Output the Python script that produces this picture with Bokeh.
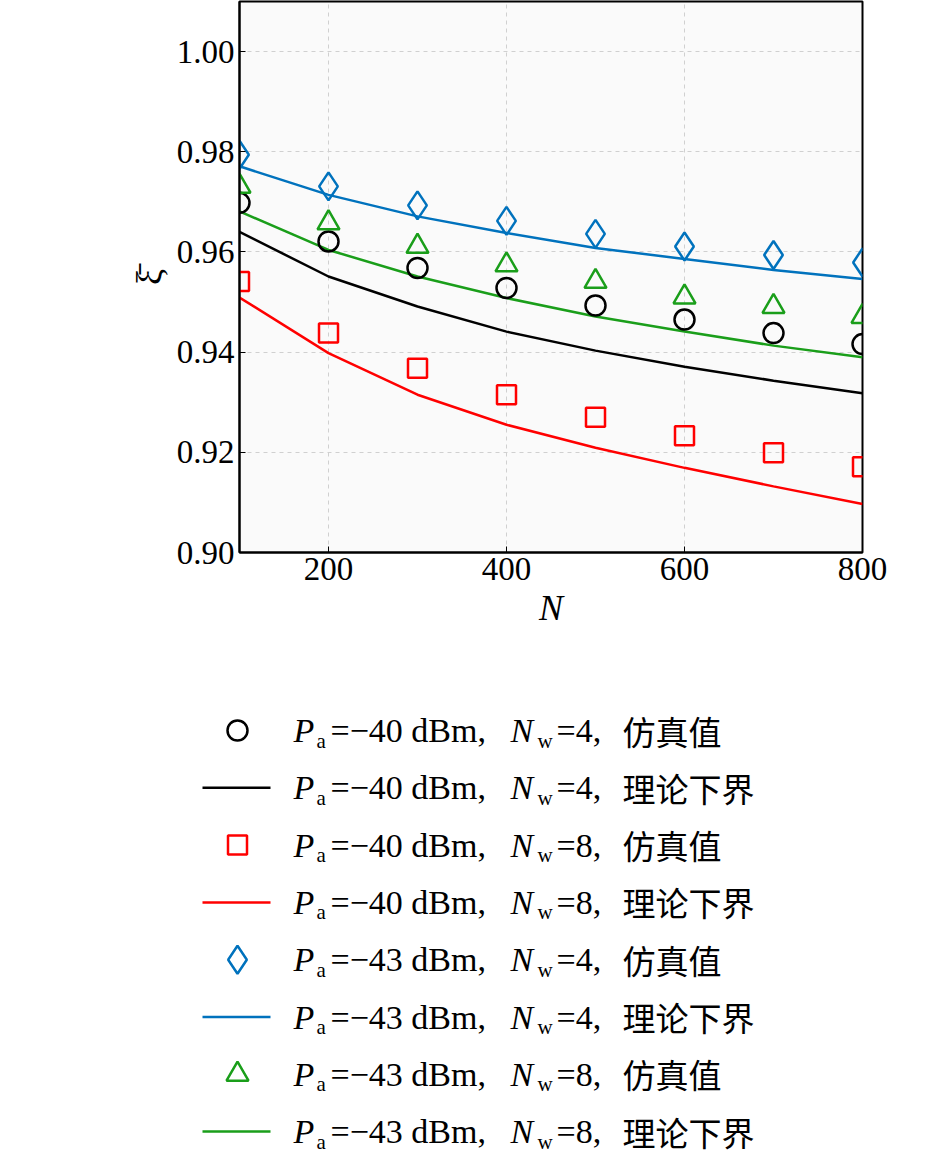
from bokeh.plotting import figure
from bokeh.models import Range1d, FixedTicker, NumeralTickFormatter
from bokeh.core.properties import value
from bokeh.embed import file_html
from bokeh.resources import INLINE

N = [100, 200, 300, 400, 500, 600, 700, 800]
sim_40_4 = [0.9698, 0.9621, 0.9568, 0.9528, 0.9493, 0.9465, 0.9438, 0.9416]
th_40_4 = [0.9640, 0.9551, 0.9491, 0.9441, 0.9403, 0.9371, 0.9343, 0.9318]
sim_40_8 = [0.9541, 0.9438, 0.9368, 0.9315, 0.9270, 0.9233, 0.9199, 0.9171]
th_40_8 = [0.9509, 0.9398, 0.9315, 0.9255, 0.9209, 0.9169, 0.9132, 0.9097]
sim_43_4 = [0.9794, 0.9731, 0.9693, 0.9662, 0.9636, 0.9611, 0.9594, 0.9579]
th_43_4 = [0.9771, 0.9714, 0.9671, 0.9638, 0.9608, 0.9586, 0.9564, 0.9546]
sim_43_8 = [0.9731, 0.9658, 0.9611, 0.9574, 0.9541, 0.9510, 0.9491, 0.9471]
th_43_8 = [0.9681, 0.9604, 0.9551, 0.9508, 0.9471, 0.9441, 0.9413, 0.9390]
x_ticks = [200, 400, 600, 800]
y_ticks = [0.90, 0.92, 0.94, 0.96, 0.98, 1.00]

BLACK, RED, BLUE, GREEN = "#000000", "#ff0000", "#0072bd", "#1a9e1a"
SERIF = "Liberation Serif"

p = figure(width=900, height=630, output_backend="svg", toolbar_location=None,
           x_range=Range1d(100, 800), y_range=Range1d(0.90, 1.01),
           min_border_left=239, min_border_right=38, min_border_top=1, min_border_bottom=10)
p.background_fill_color = "#fafafa"
p.outline_line_color = "black"
p.outline_line_width = 2
for ax in (p.xaxis[0], p.yaxis[0]):
    ax.major_label_text_font = SERIF
    ax.major_label_text_font_size = "33px"
    ax.major_label_text_color = "black"
    ax.axis_label_text_font = SERIF
    ax.axis_label_text_font_size = "36px"
    ax.axis_label_text_font_style = "italic"
    ax.axis_label_text_color = "black"
    ax.major_tick_in = 6
    ax.major_tick_out = 0
    ax.minor_tick_in = 0
    ax.minor_tick_out = 0
    ax.axis_line_width = 2
p.xaxis.ticker = FixedTicker(ticks=x_ticks)
p.yaxis.ticker = FixedTicker(ticks=y_ticks)
p.yaxis.formatter = NumeralTickFormatter(format="0.00")
p.xaxis.axis_label = "N"
p.yaxis.axis_label = "ξ\u0304"
p.yaxis.axis_label_text_font_style = "normal"
p.grid.grid_line_color = "#d0d0d0"
p.grid.grid_line_dash = "4 4"

lines = [(th_40_4, BLACK), (th_40_8, RED), (th_43_4, BLUE), (th_43_8, GREEN)]
for ys, c in lines:
    p.line(N, ys, line_color=c, line_width=2.5)
p.scatter(N, sim_40_4, marker="circle", size=20, fill_color=None, line_color=BLACK, line_width=2.5)
p.scatter(N, sim_40_8, marker="square", size=19, fill_color=None, line_color=RED, line_width=2.5)
p.scatter(N, sim_43_4, marker="diamond", size=28, fill_color=None, line_color=BLUE, line_width=2.5)
p.scatter(N, sim_43_8, marker="triangle", size=22, fill_color=None, line_color=GREEN, line_width=2.5)

# legend figure
leg_P = ["40", "40", "40", "40", "43", "43", "43", "43"]
leg_N = ["4", "4", "8", "8", "4", "4", "8", "8"]
leg_kind = ["仿真值", "理论下界"] * 4
leg_marker = ["circle", None, "square", None, "diamond", None, "triangle", None]
leg_color = [BLACK, BLACK, RED, RED, BLUE, BLUE, GREEN, GREEN]
leg_size = {"circle": 20, "square": 19, "diamond": 28, "triangle": 22}

LH = 525
lf = figure(width=900, height=LH, output_backend="svg", toolbar_location=None,
            x_range=Range1d(0, 900), y_range=Range1d(LH, 0),
            min_border=0)
lf.axis.visible = False
lf.grid.visible = False
lf.outline_line_color = None
rows_y = [100 + 57.3 * i for i in range(8)]
for i, yy in enumerate(rows_y):
    c = leg_color[i]
    if leg_marker[i]:
        lf.scatter([237], [yy], marker=leg_marker[i], size=leg_size[leg_marker[i]],
                   fill_color=None, line_color=c, line_width=2.5)
    else:
        lf.line([202, 270], [yy, yy], line_color=c, line_width=2.5)

    def t(x, dy, s, size="34px", style="normal", font=SERIF):
        lf.text([x], [yy + dy], text=[s], text_font=value(font), text_font_size=size,
                text_font_style=style, text_baseline="middle", text_color="black")
    t(293, 0, "P", style="italic")
    t(316, 10, "a", size="21px")
    t(330, 0, "=−" + leg_P[i] + " dBm,")
    t(510, 0, "N", style="italic")
    t(537, 10, "w", size="21px")
    t(556, 0, "=" + leg_N[i] + ",")
    t(622, 0, leg_kind[i], size="33px", font="Noto Sans CJK SC")

open("out.html", "w").write(file_html([p, lf], INLINE))
